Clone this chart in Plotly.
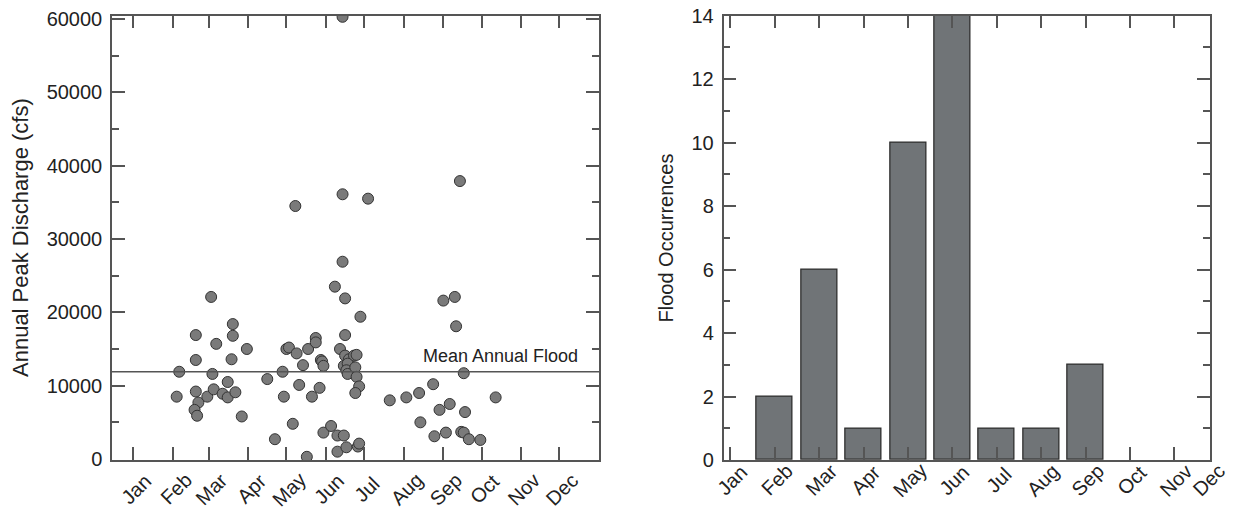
import plotly.graph_objects as go

# ---------------- data ----------------
months = ["Jan", "Feb", "Mar", "Apr", "May", "Jun", "Jul", "Aug", "Sep", "Oct", "Nov", "Dec"]
month_start_doy = [1, 32, 60, 91, 121, 152, 182, 213, 244, 274, 305, 335]

peak_doy = [128, 165, 165, 185, 257, 165, 62, 159, 167, 179, 79, 79, 50, 66, 90, 50, 78, 37, 63,
            35, 50, 52, 49, 51, 59, 64, 71, 75, 75, 81, 86, 106, 118, 112, 119, 126, 121, 123,
            129, 134, 131, 138, 144, 144, 141, 147, 148, 149, 150, 150, 156, 137, 161, 166, 161,
            168, 177, 178, 167, 163, 167, 170, 174, 176, 166, 169, 168, 169, 175, 176, 178, 175,
            202, 215, 225, 226, 236, 241, 249, 237, 246, 258, 260, 264, 273, 261, 260, 285, 244,
            253, 254]
peak_cfs = [34500, 60300, 36100, 35500, 37900, 26900, 22100, 23500, 21900, 19400, 18400, 16800,
            16900, 15700, 15000, 13500, 13600, 11900, 11600, 8500, 9200, 7700, 6700, 5900, 8500,
            9500, 8900, 10500, 8400, 9100, 5800, 10900, 11900, 2700, 8500, 4800, 15000, 15200,
            14400, 12800, 10100, 15000, 16500, 15900, 8500, 9700, 13500, 13300, 12700, 3600, 4500,
            300, 3200, 3200, 1000, 1600, 1700, 2100, 16900, 15000, 14100, 13600, 14100, 14200,
            12700, 13000, 12100, 11600, 12500, 11200, 9900, 9000, 8000, 8400, 9000, 5000, 10200,
            6700, 7500, 3100, 3600, 3700, 3600, 2700, 2600, 6400, 11700, 8400, 21600, 22100, 18100]

mean_annual_flood = 11900

bar_month_num = [1, 2, 3, 4, 5, 6, 7, 8, 9, 10, 11, 12]
flood_occurrences = [0, 2, 6, 1, 10, 14, 1, 1, 3, 0, 0, 0]

# ---------------- layout constants ----------------
FONT = "Liberation Sans, Arial, sans-serif"
AX = "#555555"
TXT = "#222222"
dom1 = [112 / 1233, 599 / 1233]
dom2 = [723.5 / 1233, 1210 / 1233]
ydom = [1 - 460 / 513, 1 - 15.7 / 513]
xr1 = [-15.7, 366]
yr1 = [-136, 60450]
xr2 = [0.845, 11.8]

fig = go.Figure()

fig.add_trace(go.Scatter(
    x=peak_doy, y=peak_cfs, mode="markers", xaxis="x", yaxis="y",
    marker=dict(size=11, color="#7a7a7a", line=dict(color="#333333", width=1)),
    showlegend=False, hoverinfo="x+y"))

fig.add_trace(go.Scatter(
    x=xr1, y=[mean_annual_flood, mean_annual_flood], mode="lines", xaxis="x", yaxis="y",
    line=dict(color="#555555", width=1.5), showlegend=False, hoverinfo="skip"))

fig.add_trace(go.Bar(
    x=bar_month_num, y=flood_occurrences, xaxis="x2", yaxis="y2", width=0.81,
    marker=dict(color="#707477",
                line=dict(color="#2e2e2e",
                          width=[0 if v == 0 else 1.3 for v in flood_occurrences])),
    showlegend=False))

axis_common = dict(showline=True, linecolor=AX, linewidth=1.5, mirror="ticks",
                   ticks="inside", ticklen=13, tickwidth=1.5, tickcolor=AX,
                   showgrid=False, zeroline=False, automargin=False,
                   tickfont=dict(family=FONT, size=20, color=TXT))

fig.update_layout(
    width=1233, height=513,
    margin=dict(l=0, r=0, t=0, b=0, autoexpand=False),
    paper_bgcolor="white", plot_bgcolor="white",
    font=dict(family=FONT, color=TXT),
    bargap=0,
    xaxis=dict(domain=dom1, range=xr1, anchor="y", tickmode="array",
               tickvals=month_start_doy, showticklabels=False, **axis_common),
    yaxis=dict(domain=ydom, range=yr1, anchor="x", tickmode="array",
               tickvals=[0, 10000, 20000, 30000, 40000, 50000, 60000],
               ticktext=["0", "10000", "20000", "30000", "40000", "50000", "60000"],
               minor=dict(dtick=5000, tick0=0, ticks="inside", ticklen=7,
                          tickwidth=1.5, tickcolor=AX),
               ticklabelstandoff=4, **axis_common),
    xaxis2=dict(domain=dom2, range=xr2, anchor="y2", tickmode="array",
                tickvals=bar_month_num, showticklabels=False, **axis_common),
    yaxis2=dict(domain=ydom, range=[0, 14], anchor="x2", tickmode="linear", dtick=2, tick0=0,
                minor=dict(dtick=1, tick0=0, ticks="inside", ticklen=7,
                           tickwidth=1.5, tickcolor=AX),
                ticklabelstandoff=4, **axis_common),
)

ann = []
# month labels, left panel
for m, d in zip(months, month_start_doy):
    ann.append(dict(text=m, x=d, xref="x", y=ydom[0], yref="paper", showarrow=False,
                    textangle=-45, xanchor="center", yanchor="middle",
                    xshift=3, yshift=-29, font=dict(family=FONT, size=20, color=TXT)))
# month labels, right panel (Dec lies outside the axis range -> paper coords via scale)
for m, n in zip(months, bar_month_num):
    if xr2[0] <= n <= xr2[1]:
        ann.append(dict(text=m, x=n, xref="x2", y=ydom[0], yref="paper", showarrow=False,
                        textangle=-45, xanchor="center", yanchor="middle",
                        xshift=2, yshift=-20, font=dict(family=FONT, size=20, color=TXT)))
    else:
        px = dom2[0] + (n - xr2[0]) / (xr2[1] - xr2[0]) * (dom2[1] - dom2[0])
        ann.append(dict(text=m, x=px, xref="paper", y=ydom[0], yref="paper", showarrow=False,
                        textangle=-45, xanchor="center", yanchor="middle",
                        xshift=-10, yshift=-20, font=dict(family=FONT, size=20, color=TXT)))

ann.append(dict(text="Mean Annual Flood", x=351, xref="x", y=mean_annual_flood, yref="y",
                showarrow=False, xanchor="right", yanchor="bottom", yshift=4,
                font=dict(family=FONT, size=18, color=TXT)))
ann.append(dict(text="Annual Peak Discharge (cfs)", x=20 / 1233, xref="paper",
                y=1 - 238 / 513, yref="paper", showarrow=False, textangle=-90,
                xanchor="center", yanchor="middle", font=dict(family=FONT, size=22, color=TXT)))
ann.append(dict(text="Flood Occurrences", x=665.5 / 1233, xref="paper",
                y=1 - 238 / 513, yref="paper", showarrow=False, textangle=-90,
                xanchor="center", yanchor="middle", font=dict(family=FONT, size=20, color=TXT)))
fig.update_layout(annotations=ann)

fig.write_html("out.html", config={"displayModeBar": False},
               post_script="document.body.style.margin='0';")
